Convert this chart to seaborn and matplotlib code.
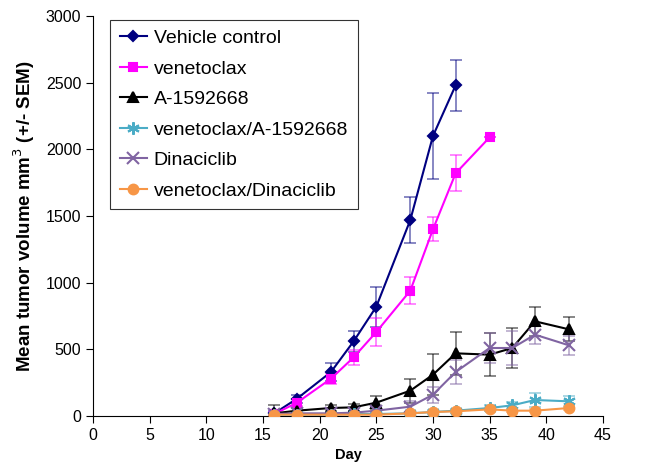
import matplotlib
matplotlib.use("Agg")
import matplotlib.pyplot as plt
import seaborn as sns
import pandas as pd

days = [16, 18, 21, 23, 25, 28, 30, 32, 35, 37, 39, 42]

vehicle = [20, 130, 330, 560, 820, 1470, 2100, 2480]
vehicle_err = [20, 30, 65, 80, 150, 175, 320, 190]

venetoclax = [15, 100, 280, 440, 630, 940, 1400, 1820, 2090]
venetoclax_err = [15, 25, 40, 55, 105, 100, 90, 135, 0]

a1592668 = [20, 40, 60, 65, 100, 190, 310, 470, 460, 510, 710, 650]
a1592668_err = [60, 20, 25, 25, 50, 90, 155, 160, 160, 150, 110, 90]

combo_a = [10, 10, 10, 15, 15, 20, 30, 40, 60, 80, 120, 110]
combo_a_err = [5, 5, 5, 5, 8, 10, 12, 15, 20, 25, 50, 40]

dinaciclib = [15, 20, 20, 25, 40, 70, 160, 330, 510, 510, 610, 530]
dinaciclib_err = [10, 10, 10, 10, 20, 40, 60, 90, 110, 130, 70, 70]

combo_d = [10, 10, 10, 10, 10, 20, 30, 35, 50, 40, 40, 60]
combo_d_err = [5, 5, 5, 5, 5, 8, 10, 10, 12, 10, 10, 12]

series = [
    ("Vehicle control", vehicle, vehicle_err, "#000080", "D", 5),
    ("venetoclax", venetoclax, venetoclax_err, "#FF00FF", "s", 6),
    ("A-1592668", a1592668, a1592668_err, "#000000", "^", 7),
    ("venetoclax/A-1592668", combo_a, combo_a_err, "#4BACC6", (6, 2, 0), 9),
    ("Dinaciclib", dinaciclib, dinaciclib_err, "#8064A2", "x", 8),
    ("venetoclax/Dinaciclib", combo_d, combo_d_err, "#F79646", "o", 7),
]

plt.rcParams['font.family'] = ['Liberation Sans', 'DejaVu Sans']
fig = plt.figure(figsize=(6.48, 4.69), dpi=100)
ax = fig.add_axes([0.1435, 0.113, 0.787, 0.853])

for name, vals, errs, color, marker, ms in series:
    df = pd.DataFrame({"Day": days[:len(vals)], "vol": vals, "err": errs})
    ax.errorbar(df["Day"], df["vol"], yerr=df["err"], fmt="none", ecolor=color,
                alpha=0.55, elinewidth=1.2, capsize=4, capthick=1.2, zorder=2)
    sns.lineplot(data=df, x="Day", y="vol", ax=ax, color=color, marker=marker,
                 markersize=ms, markeredgecolor=color, markeredgewidth=1.5,
                 linewidth=1.5, label=name, zorder=3)

ax.set_xlim(0, 45)
ax.set_ylim(0, 3000)
ax.set_xticks(range(0, 46, 5))
ax.set_yticks(range(0, 3001, 500))
ax.tick_params(labelsize=11.5, direction="out", length=5, width=0.8)
for s in ["top", "right"]:
    ax.spines[s].set_visible(False)
for s in ["left", "bottom"]:
    ax.spines[s].set_linewidth(0.8)
ax.set_xlabel("Day", fontsize=10.5, fontweight="bold")
ax.set_ylabel("Mean tumor volume mm$^3$ (+/- SEM)", fontsize=13.5, fontweight="bold",
              labelpad=6)

leg = ax.legend(loc="upper left", bbox_to_anchor=(0.033, 0.99), fontsize=14,
                frameon=True, fancybox=False, edgecolor="black",
                handlelength=1.4, handletextpad=0.35, labelspacing=0.66,
                borderpad=0.5, borderaxespad=0)
leg.get_frame().set_linewidth(0.8)

fig.savefig("out.png", dpi=100)
